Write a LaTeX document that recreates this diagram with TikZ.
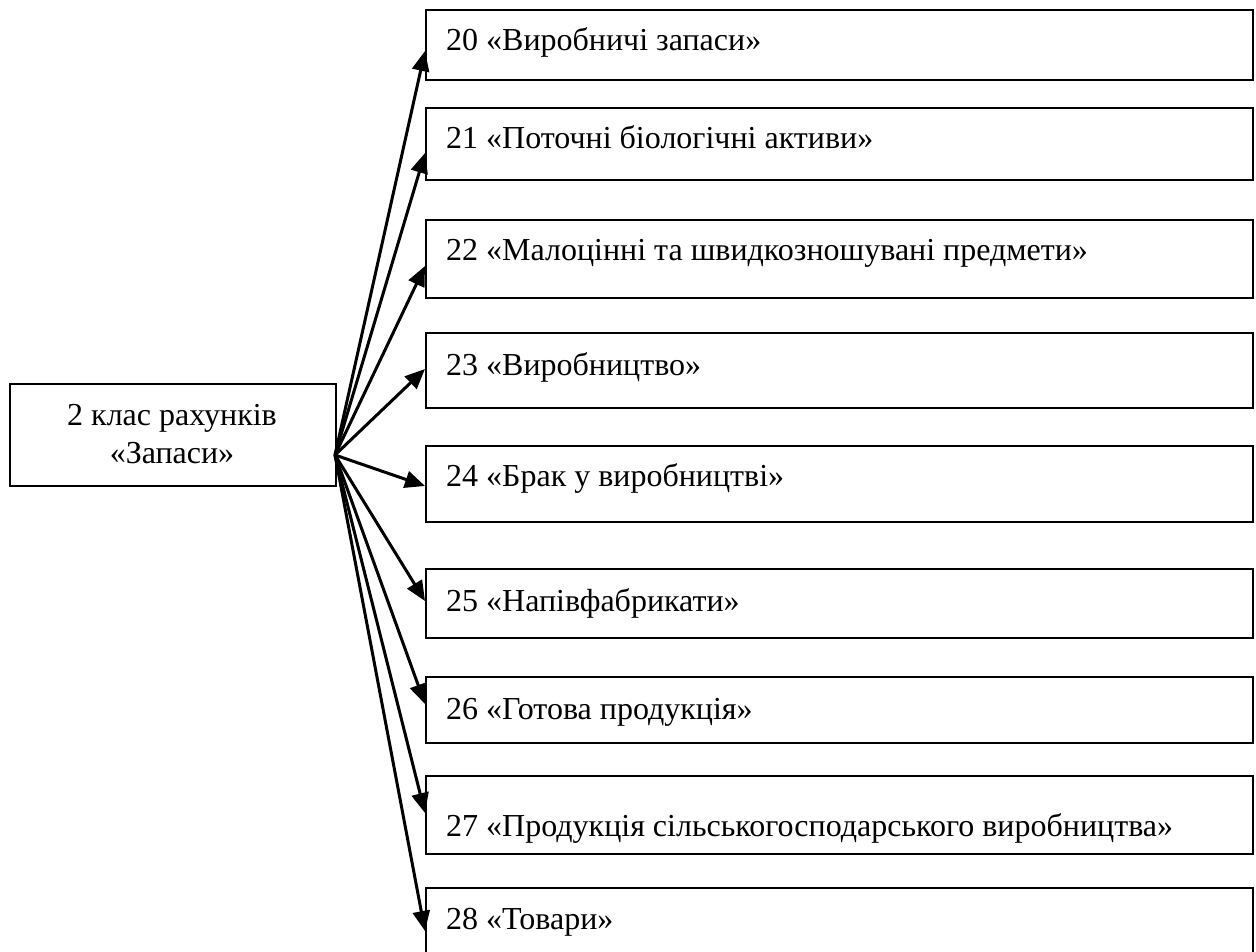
\documentclass[tikz,border=0pt]{standalone}
\usepackage{fontspec}
\setmainfont{Liberation Serif}
\usetikzlibrary{arrows.meta}
\tikzset{
  acctbox/.style={draw, line width=2pt, rectangle, anchor=north west, inner sep=0pt},
  accttext/.style={anchor=base west, inner sep=0pt, font=\fontsize{32}{38}\selectfont},
  conn/.style={line width=3pt, -{Triangle[length=20pt,width=17pt]}}
}
\begin{document}
\begin{tikzpicture}[x=1pt,y=-1pt]
\useasboundingbox (0,0) rectangle (1256,952);
\clip (0,0) rectangle (1256,952);
% main box
\node[acctbox, minimum width=326pt, minimum height=102pt] (main) at (9,383) {};
\node[accttext, anchor=base] (m1) at (172,425) {2 клас рахунків};
\node[accttext, anchor=base] (m2) at (172,463) {«Запаси»};
\coordinate (o) at (335,455);
\foreach \n/\t/\b/\tip/\base/\txt in {
  20/9/79/50/51/{20 «Виробничі запаси»},
  21/107/179/152/149/{21 «Поточні біологічні активи»},
  22/219/297/265/261/{22 «Малоцінні та швидкозношувані предмети»},
  23/332/407/368/375/{23 «Виробництво»},
  24/445/521/485/486/{24 «Брак у виробництві»},
  25/568/637/600/611/{25 «Напівфабрикати»},
  26/676/742/703/719/{26 «Готова продукція»},
  27/775/853/812/836/{27 «Продукція сільськогосподарського виробництва»},
  28/887/962/930/929/{28 «Товари»}}{
  \pgfmathsetmacro{\h}{\b-\t}
  \node[acctbox, minimum width=827pt, minimum height=\h pt] (b\n) at (425,\t) {};
  \node[accttext] (t\n) at (446,\base) {\txt};
  \pgfmathsetmacro{\off}{\tip-(\t+\b)/2}
  \draw[conn] (o) -- ([yshift=-\off pt]b\n.west);
}
\end{tikzpicture}
\end{document}
